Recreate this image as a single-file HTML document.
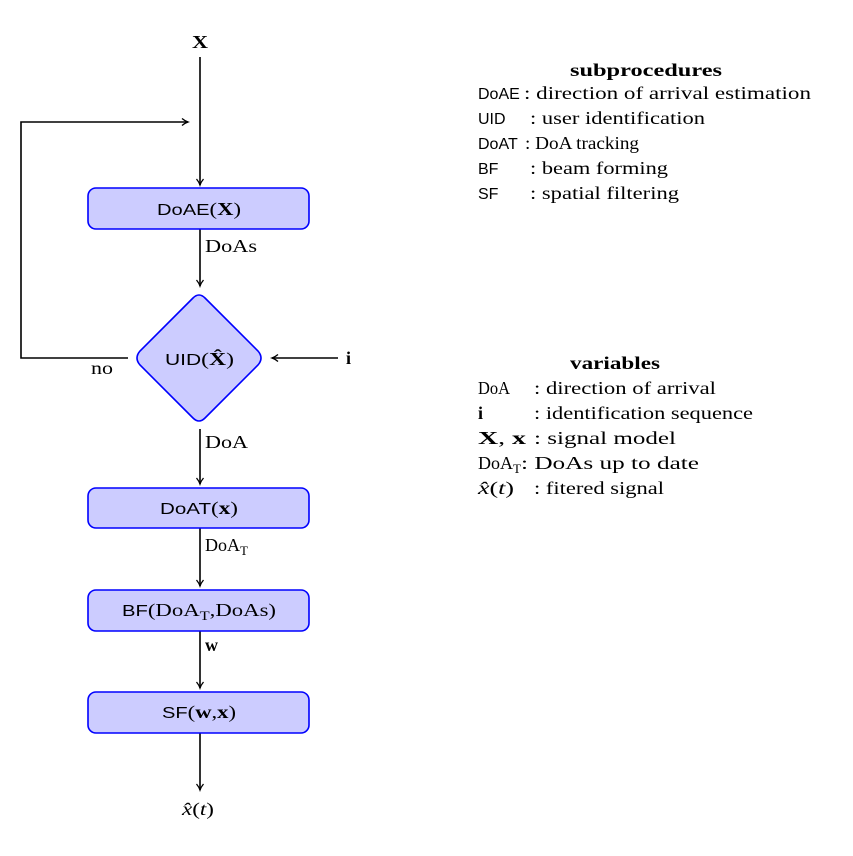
<!DOCTYPE html>
<html><head><meta charset="utf-8"><style>
html,body{margin:0;padding:0;background:#fff}
svg{display:block}
text{font-family:"Liberation Serif",serif;font-size:18px;fill:#000}
.s{font-family:"Liberation Sans","DejaVu Sans",sans-serif;font-size:16px}
.b{font-weight:bold}
</style></head><body>
<svg width="853" height="856" viewBox="0 0 853 856" xmlns="http://www.w3.org/2000/svg">
<defs><marker id="a" markerWidth="10" markerHeight="10" refX="8" refY="5" orient="auto" markerUnits="userSpaceOnUse">
<path d="M2,1.5 Q5,4 8,5 Q5,6 2,8.5" fill="none" stroke="#000" stroke-width="1.3"/></marker></defs>
<g stroke="#000" stroke-width="1.6" fill="none">
<line x1="200" y1="57" x2="200" y2="185" marker-end="url(#a)"/>
<polyline points="128,358 21,358 21,122 188,122" marker-end="url(#a)"/>
<line x1="200" y1="229" x2="200" y2="286" marker-end="url(#a)"/>
<line x1="338" y1="358" x2="272" y2="358" marker-end="url(#a)"/>
<line x1="200" y1="429" x2="200" y2="484" marker-end="url(#a)"/>
<line x1="200" y1="528" x2="200" y2="586" marker-end="url(#a)"/>
<line x1="200" y1="631" x2="200" y2="688" marker-end="url(#a)"/>
<line x1="200" y1="733" x2="200" y2="790" marker-end="url(#a)"/>
</g>
<g fill="#ccccff" stroke="#0000ff" stroke-width="1.6">
<rect x="88" y="188" width="221" height="41" rx="8"/>
<path d="M193,298 Q199,292 205,298 L258,351 Q264,358 258,365 L205,418 Q199,424 193,418 L140,365 Q134,358 140,351 Z"/>
<rect x="88" y="488" width="221" height="40" rx="8"/>
<rect x="88" y="590" width="221" height="41" rx="8"/>
<rect x="88" y="692" width="221" height="41" rx="8"/>
</g>
<g lengthAdjust="spacingAndGlyphs">
<text x="192" y="48" class="b" textLength="16" lengthAdjust="spacingAndGlyphs">X</text>
<text x="157" y="215" textLength="84" lengthAdjust="spacingAndGlyphs"><tspan class="s">DoAE</tspan>(<tspan class="b">X</tspan>)</text>
<text x="205" y="252" textLength="52" lengthAdjust="spacingAndGlyphs">DoAs</text>
<text x="165" y="365" textLength="69" lengthAdjust="spacingAndGlyphs"><tspan class="s">UID</tspan>(<tspan class="b">X̂</tspan>)</text>
<text x="91" y="374" textLength="22" lengthAdjust="spacingAndGlyphs">no</text>
<text x="346" y="364" class="b">i</text>
<text x="205" y="448" textLength="43" lengthAdjust="spacingAndGlyphs">DoA</text>
<text x="160" y="514" textLength="78" lengthAdjust="spacingAndGlyphs"><tspan class="s">DoAT</tspan>(<tspan class="b">x</tspan>)</text>
<text x="205" y="551">DoA<tspan font-size="13" dy="4">T</tspan></text>
<text x="122" y="616" textLength="154" lengthAdjust="spacingAndGlyphs"><tspan class="s">BF</tspan>(DoA<tspan font-size="13" dy="4">T</tspan><tspan dy="-4">,DoAs)</tspan></text>
<text x="205" y="651" class="b">w</text>
<text x="162" y="718" textLength="74" lengthAdjust="spacingAndGlyphs"><tspan class="s">SF</tspan>(<tspan class="b">w</tspan>,<tspan class="b">x</tspan>)</text>
<text x="182" y="815" textLength="32" lengthAdjust="spacingAndGlyphs"><tspan font-style="italic">x̂</tspan>(<tspan font-style="italic">t</tspan>)</text>

<text x="570" y="76" class="b" textLength="152" lengthAdjust="spacingAndGlyphs">subprocedures</text>
<text x="478" y="99" class="s">DoAE</text><text x="524" y="99" textLength="287" lengthAdjust="spacingAndGlyphs">: direction of arrival estimation</text>
<text x="478" y="124" class="s">UID</text><text x="530" y="124" textLength="175" lengthAdjust="spacingAndGlyphs">: user identification</text>
<text x="478" y="149" class="s">DoAT</text><text x="525" y="149" textLength="114" lengthAdjust="spacingAndGlyphs">: DoA tracking</text>
<text x="478" y="174" class="s">BF</text><text x="530" y="174" textLength="138" lengthAdjust="spacingAndGlyphs">: beam forming</text>
<text x="478" y="199" class="s">SF</text><text x="530" y="199" textLength="149" lengthAdjust="spacingAndGlyphs">: spatial filtering</text>

<text x="570" y="369" class="b" textLength="90" lengthAdjust="spacingAndGlyphs">variables</text>
<text x="478" y="394" textLength="32" lengthAdjust="spacingAndGlyphs">DoA</text><text x="534" y="394" textLength="182" lengthAdjust="spacingAndGlyphs">: direction of arrival</text>
<text x="478" y="419" class="b">i</text><text x="534" y="419" textLength="219" lengthAdjust="spacingAndGlyphs">: identification sequence</text>
<text x="478" y="444" textLength="48" lengthAdjust="spacingAndGlyphs"><tspan class="b">X</tspan>, <tspan class="b">x</tspan></text><text x="534" y="444" textLength="142" lengthAdjust="spacingAndGlyphs">: signal model</text>
<text x="478" y="469">DoA<tspan font-size="13" dy="4">T</tspan></text><text x="521" y="469" textLength="178" lengthAdjust="spacingAndGlyphs">: DoAs up to date</text>
<text x="478" y="494" textLength="36" lengthAdjust="spacingAndGlyphs"><tspan font-style="italic">x̂</tspan>(<tspan font-style="italic">t</tspan>)</text><text x="534" y="494" textLength="130" lengthAdjust="spacingAndGlyphs">: fitered signal</text>
</g>
</svg>
</body></html>
